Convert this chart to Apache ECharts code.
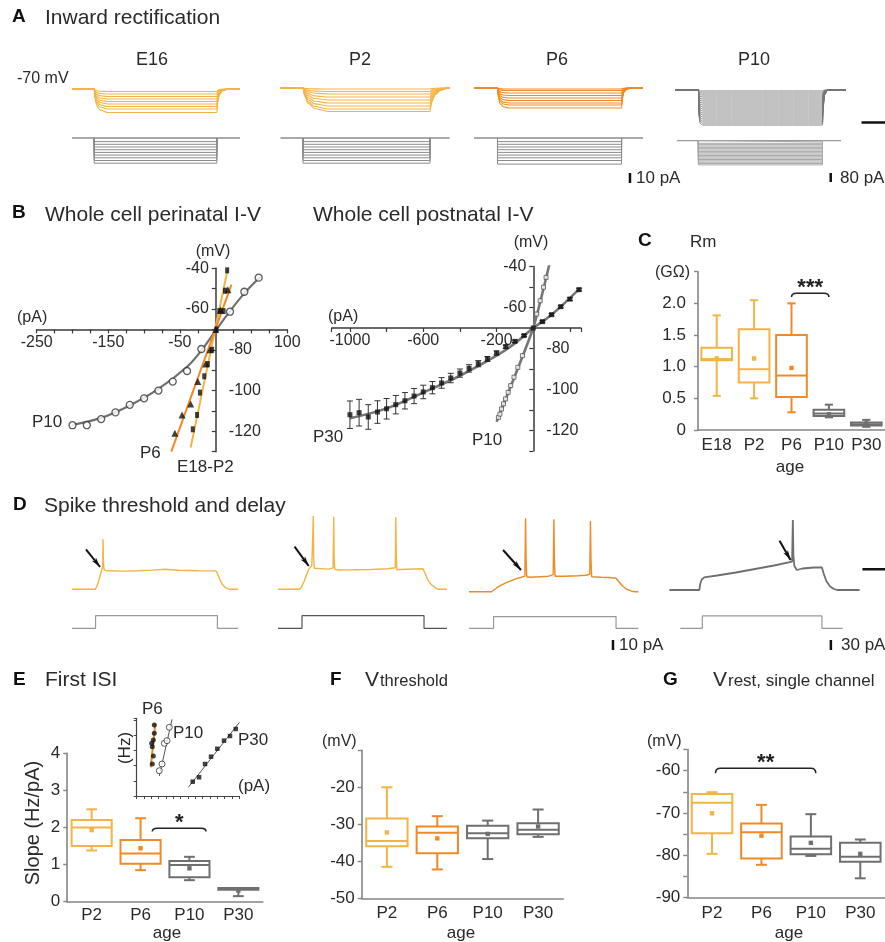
<!DOCTYPE html>
<html>
<head>
<meta charset="utf-8">
<title>Figure</title>
<script src="https://cdn.jsdelivr.net/npm/echarts@6.0.0/dist/echarts.min.js"></script>
<style>
html,body{margin:0;padding:0;background:#ffffff;}
#chart{width:885px;height:942px;}
</style>
</head>
<body>
<div id="chart"></div>
<script>
// ====================== DATA ======================
// ---- Panel A: inward rectification ----
const aAges = ['E16', 'P2', 'P6', 'P10'];
// steady-state voltage deflection of each sweep (mV, relative to -70 mV)
const aE16Levels = [-2.5, -5, -7.5, -10, -12.5, -15, -17.5, -20, -23.5];
const aP2Levels  = [-1, -3.5, -6, -9, -12, -15, -18, -21, -23.5];
const aP6Levels  = [-1, -2.5, -5, -7.5, -10, -12.5, -15, -17, -20];
const aP10Levels = [-1, -3, -5, -7, -9, -11, -13, -15, -17, -19, -21, -23, -25, -27, -29, -31, -33, -35];
// injected current steps (pA)
const aE16Steps = [-4, -7, -10, -13, -16, -19, -22, -25, -28];
const aP2Steps  = [-4, -7, -10, -13, -16, -19, -22, -25, -28];
const aP6Steps  = [-4, -7, -10, -13, -16, -19, -22, -25, -29];
const aP10Steps = [-12, -24, -36, -48, -60, -72, -84, -96, -108, -120, -132, -144, -156, -168, -180, -192, -204, -216];
const aStepOn  = [132, 133, 139, 137];   // ms
const aStepOff = [862, 884, 873, 863];   // ms
const aCmdSpan = [[0, 1000], [0, 1000], [0, 1000], [11, 971]];
// time course of each sweep: [ms after edge, fraction of steady deflection]
const aE16On  = [[6, 0.45], [15, 0.72], [35, 0.9], [80, 1]];
const aE16Off = [[6, 0.55], [15, 0.25], [35, 0.07], [70, 0]];
const aP2On   = [[10, 0.35], [30, 0.65], [70, 0.88], [150, 1]];
const aP2Off  = [[10, 0.6], [30, 0.3], [60, 0.1], [110, 0]];
const aP6On   = [[6, 0.5], [15, 0.78], [35, 0.94], [70, 1]];
const aP6Off  = [[6, 0.5], [15, 0.2], [35, 0.05], [60, 0]];
const aP10On  = [[3, 0.75], [10, 0.95], [25, 1]];
const aP10Off = [[4, 0.5], [12, 0.15], [30, 0]];
// scale bars: [ms, value] end points
const aBar10pA = [[923, -39], [923, -50]];
const aBar80pA = [[911, -288], [911, -368]];
const aTimeBar = [[1091, -102.5], [1229, -102.5]];

// ---- Panel B: I-V curves (pA, mV) ----
const bP10Current = [-200, -180, -160, -140, -120, -100, -80, -60, -40, -20, 20, 40, 60];
const bP10Voltage = [-117, -117, -114, -110.7, -107, -103.8, -100, -95.6, -90.4, -79.6, -61.3, -51.5, -44.6];
const bP10Fit = [[-200, -116.8], [-160, -113.4], [-120, -107.3], [-80, -99.2], [-40, -88.3], [-20, -80.3], [0, -70.5], [20, -61], [40, -52.3], [62, -44.3]];
const bE18Current = [16, 13, 5, 11, 1, -5, -11, -16, -22, -26, -32];
const bE18Voltage = [-41, -51, -61, -61, -70, -80, -87, -93, -101, -112, -119];
const bP6Current = [17, 7, 0, -8, -14, -25, -35, -47, -57];
const bP6Voltage = [-50.5, -60.5, -70, -80, -87, -95.6, -106.6, -112, -121];
const bE18Fit = [[-35, -128], [17, -40]];
const bP6Fit = [[-62, -130], [22, -48]];
const bP30Current = [-1000, -950, -900, -850, -800, -750, -700, -650, -600, -550, -500, -450, -400, -350, -300, -250, -200, -150, -100, -50, 0, 50, 100, 150, 200, 250];
const bP30Voltage = [-112.3, -111.3, -113.4, -111, -109.4, -107.4, -105.5, -103.2, -101.2, -99.1, -96.8, -94.4, -92, -89.7, -87.4, -85.1, -82.2, -79.1, -76.5, -73.7, -70, -66.9, -63.5, -59.6, -55.9, -51.3];
const bP30Sem = [6.7, 6.5, 6, 5.5, 5, 4.5, 4, 3.7, 3.3, 3, 2.6, 2.3, 2, 1.8, 1.5, 1.2, 1, 0.8, 0.6, 0.5, 0, 0.5, 0.6, 0.6, 0.7, 0.7];
const bP30Fit = [[-1000, -114], [-800, -109.2], [-600, -101.5], [-400, -93.3], [-200, -83.5], [-100, -77.5], [0, -70], [100, -63.5], [250, -51]];
const bP10bCurrent = [-190, -182, -173, -162, -151, -137, -123, -105, -84, -59, 19, 38, 56, 70];
const bP10bVoltage = [-113.6, -112, -109.5, -107, -104.6, -101.4, -98.1, -94, -89.2, -83.5, -63.2, -56.7, -50.1, -45.3];
const bP10bFit = [[-200, -115.8], [0, -70], [88, -39]];

// ---- Panel C: Rm (GΩ) ----
const cAges = ['E18', 'P2', 'P6', 'P10', 'P30'];
const cMin  = [0.54, 0.50, 0.28, 0.20, 0.05];
const cQ1   = [1.10, 0.75, 0.52, 0.22, 0.07];
const cMed  = [1.12, 0.96, 0.86, 0.26, 0.09];
const cQ3   = [1.30, 1.59, 1.50, 0.32, 0.12];
const cMax  = [1.81, 2.05, 2.00, 0.40, 0.16];
const cMean = [1.13, 1.13, 0.98, 0.25, 0.10];

// ---- Panel D: spike traces (ms, mV) and current steps ----
const dE16Trace = [[0,-70],[140,-70],[150,-67],[160,-62],[170,-56],[180,-50],[185,-47.5],[187,-20],[189,-42],[193,-50.5],[210,-51.5],[300,-51.8],[400,-51.5],[480,-50.8],[560,-50],[640,-51],[760,-51.4],[866,-51.6],[876,-54],[890,-60],[905,-65],[925,-68.5],[950,-70],[1000,-70]];
const dP2Trace = [[0,-70],[128,-70],[140,-67.5],[155,-62],[170,-55],[185,-49],[200,-46.5],[207,-46],[209,3.3],[211,-38],[215,-49],[225,-50.5],[300,-49.8],[326,-48.5],[330,2.6],[332,-38],[336,-50],[360,-50.7],[450,-50.5],[550,-50.2],[650,-49.4],[694,-48.5],[697,2],[700,-38],[704,-50.5],[760,-50],[858,-49.5],[870,-54],[885,-60],[905,-65],[930,-68.5],[950,-70],[1000,-70]];
const dP6Trace = [[0,-70],[133,-70],[145,-68.5],[165,-66],[190,-63.5],[220,-61],[250,-59],[280,-57],[305,-55.8],[330,-54.5],[334,3.4],[337,-38],[341,-55],[360,-55.6],[420,-55],[470,-54.5],[497,-53],[501,2.4],[504,-38],[508,-54.5],[560,-54.5],[640,-54],[690,-53.5],[713,-52.5],[717,0.7],[720,-38],[724,-55],[780,-55.5],[830,-55.8],[868,-56.5],[885,-60],[905,-64],[930,-67.5],[960,-69.5],[983,-70],[1000,-70]];
const dP10Trace = [[0,-70],[157,-70],[162,-64],[170,-59.5],[183,-57.3],[250,-55.5],[350,-52.5],[450,-49],[550,-45.5],[645,-41.7],[649,0],[652,-36],[657,-46],[670,-50],[700,-48.5],[760,-47.5],[802,-47.5],[812,-54],[825,-61],[845,-66.5],[865,-69],[882,-70],[1000,-70]];
const dStepOn  = [142, 142, 145, 173];
const dStepOff = [876, 864, 868, 802];
const dStepAmp = [12.6, 12.6, 11.7, 37];     // pA
const dCmdSpan = [[0, 1000], [0, 1000], [0, 1000], [57, 911]];
const dArrowFrom = [[84, -30], [98, -27.4], [201, -28.3], [579, -20.7]];
const dArrowTo   = [[169, -47.7], [182, -46.7], [307, -48.3], [637, -40]];
const dBar10pA = [[850, -11.7], [850, -21.7]];
const dBar30pA = [[849, -35], [849, -65]];
const dTimeBar = [[1015, -49.3], [1134, -49.3]];

// ---- Panel E: first ISI slope (Hz/pA) ----
const eAges = ['P2', 'P6', 'P10', 'P30'];
const eMin  = [1.38, 0.85, 0.58, 0.15];
const eQ1   = [1.50, 1.02, 0.66, 0.32];
const eMed  = [2.00, 1.30, 0.99, 0.34];
const eQ3   = [2.20, 1.66, 1.10, 0.37];
const eMax  = [2.49, 2.25, 1.21, 0.37];
const eMean = [1.93, 1.44, 0.90, 0.30];
// inset f-I (pA, Hz)
const insP6  = [[42.5, 21], [45.3, 26.3], [42.5, 32.4], [40.9, 34.6], [45.3, 36.8], [48, 41.2], [48, 46.6]];
const insP6Fit = [[38.2, 18.8], [50.8, 47.7]];
const insP10 = [[61.6, 16.6], [69, 21], [75.3, 34.6], [82.6, 36.3], [88.9, 45.1]];
const insP10Fit = [[61.6, 13.1], [96.3, 50.3]];
const insP30 = [[152.7, 9.4], [170, 12.3], [186.3, 21], [202.6, 25.8], [219.8, 31], [238, 36.3], [254.4, 39.4], [270, 44]];
const insP30Fit = [[140.8, 5.7], [280, 48.3]];

// ---- Panel F: V threshold (mV) ----
const fAges = ['P2', 'P6', 'P10', 'P30'];
const fMin  = [-41.5, -42.2, -39.4, -33.4];
const fQ1   = [-35.9, -37.8, -33.8, -32.7];
const fMed  = [-34.5, -32.3, -32.4, -31.5];
const fQ3   = [-28.4, -30.6, -30.4, -29.7];
const fMax  = [-20.0, -27.8, -29.0, -26.0];
const fMean = [-32.2, -33.8, -32.6, -30.6];

// ---- Panel G: V rest, single channel (mV) ----
const gAges = ['P2', 'P6', 'P10', 'P30'];
const gMin  = [-79.7, -82.3, -80.2, -85.5];
const gQ1   = [-74.8, -80.8, -79.8, -81.6];
const gMed  = [-67.6, -74.6, -78.5, -80.4];
const gQ3   = [-65.5, -72.5, -75.6, -77.1];
const gMax  = [-65.1, -68.1, -70.3, -76.3];
const gMean = [-70.1, -75.4, -77.1, -79.7];

// ====================== STYLE / LAYOUT ======================
const FONT = '"Liberation Sans", Arial, Helvetica, sans-serif';
const YEL = '#F3B443', ORA = '#F08A26', GRY = '#6F6F6F';
const TXT = '#2a2a2a';
const grids = [], xAxes = [], yAxes = [], series = [], graphics = [];
const addGrid = (left, top, width, height) => (grids.push({left, top, width, height}), grids.length - 1);
const addX = o => (xAxes.push(o), xAxes.length - 1);
const addY = o => (yAxes.push(o), yAxes.length - 1);
function line(xi, yi, data, color, width, extra) {
  series.push(Object.assign({type: 'line', xAxisIndex: xi, yAxisIndex: yi, data, showSymbol: false, symbol: 'none',
    lineStyle: {color, width}, itemStyle: {color}, silent: true, animation: false}, extra || {}));
}
function scatter(xi, yi, data, symbol, size, itemStyle) {
  series.push({type: 'scatter', xAxisIndex: xi, yAxisIndex: yi, data, symbol, symbolSize: size, itemStyle, silent: true, animation: false, z: 5});
}
function T(text, x, y, size, opt) {
  opt = opt || {};
  const al = opt.align || 'left';
  graphics.push({type: 'text', x, y, rotation: opt.rot || 0, z: 100, silent: true,
    style: {text, fill: opt.color || TXT, font: (opt.bold ? 'bold ' : '') + size + 'px ' + FONT,
      align: al, verticalAlign: 'middle', textAlign: al, textVerticalAlign: 'middle'}});
}
const zip = (xs, ys) => xs.map((x, i) => [x, ys[i]]);

// trace cell axes (hidden): x in ms, voltage 1 mV per px, current per layout
function cellAxes(L, top, h) {
  const k = (L.x1 - L.x0) / 1000;
  const g = addGrid(L.x0, top, L.xr - L.x0, h);
  const xa = addX({type: 'value', gridIndex: g, min: 0, max: (L.xr - L.x0) / k, show: false});
  const yv = addY({type: 'value', gridIndex: g, min: -70 - (top + h - L.vBase), max: -70 + (L.vBase - top), show: false});
  const yc = addY({type: 'value', gridIndex: g, min: -(top + h - L.cBase) / L.pxPerPA, max: (L.cBase - top) / L.pxPerPA, show: false});
  return {xa, yv, yc};
}
function sweep(level, on, off, onShape, offShape) {
  const pts = [[0, -70], [on, -70]];
  onShape.forEach(([dt, f]) => pts.push([on + dt, -70 + level * f]));
  pts.push([off, -70 + level]);
  offShape.forEach(([dt, f]) => pts.push([off + dt, -70 + level * f]));
  pts.push([1000, -70]);
  return pts;
}
const stepBox = (amp, on, off) => [[on, 0], [on, amp], [off, amp], [off, 0]];
const stepTrace = (amp, on, off, t0, t1) => [[t0, 0], [on, 0], [on, amp], [off, amp], [off, 0], [t1, 0]];

// ---------- Panel A ----------
const aLayout = [
  {x0: 72, x1: 240, xr: 240, vBase: 89, cBase: 138, pxPerPA: 0.9},
  {x0: 280.5, x1: 449.6, xr: 449.6, vBase: 88, cBase: 138, pxPerPA: 0.9},
  {x0: 474, x1: 643, xr: 643, vBase: 88, cBase: 138, pxPerPA: 0.9},
  {x0: 675, x1: 850, xr: 890, vBase: 90, cBase: 140.6, pxPerPA: 0.1125}
];
const aLevels = [aE16Levels, aP2Levels, aP6Levels, aP10Levels];
const aSteps = [aE16Steps, aP2Steps, aP6Steps, aP10Steps];
const aOnS = [aE16On, aP2On, aP6On, aP10On], aOffS = [aE16Off, aP2Off, aP6Off, aP10Off];
const aCol = [YEL, YEL, ORA, GRY];
const aAx = aLayout.map((L, i) => {
  const ax = cellAxes(L, 78, 112);
  line(ax.xa, ax.yc, [[aCmdSpan[i][0], 0], [aCmdSpan[i][1], 0]], i === 3 ? '#9a9a9a' : '#555', 1.2);
  aSteps[i].forEach(s => line(ax.xa, ax.yc, stepBox(s, aStepOn[i], aStepOff[i]), i === 3 ? '#a8a8a8' : '#8c8c8c', 1));
  aLevels[i].forEach(lv => line(ax.xa, ax.yv, sweep(lv, aStepOn[i], aStepOff[i], aOnS[i], aOffS[i]),
    i === 3 ? '#767676' : aCol[i], i === 3 ? 0.9 : 1.1, {smooth: 0.3, smoothMonotone: 'x'}));
  return ax;
});
line(aAx[2].xa, aAx[2].yc, aBar10pA, '#111', 2.5);
line(aAx[3].xa, aAx[3].yc, aBar80pA, '#111', 2.5);
line(aAx[3].xa, aAx[3].yv, aTimeBar, '#111', 2.5);

// ---------- Panel D ----------
const dLayout = [
  {x0: 72, x1: 238, xr: 238, vBase: 589.3, cBase: 628.3, pxPerPA: 1},
  {x0: 278, x1: 447, xr: 447, vBase: 589.3, cBase: 628.3, pxPerPA: 1},
  {x0: 469, x1: 638.4, xr: 638.4, vBase: 591.7, cBase: 628.3, pxPerPA: 1},
  {x0: 669.4, x1: 864, xr: 890, vBase: 590, cBase: 628.3, pxPerPA: 1 / 3}
];
const dTraces = [dE16Trace, dP2Trace, dP6Trace, dP10Trace];
const dCmdCol = ['#999', '#555', '#999', '#999'];
const dAx = dLayout.map((L, i) => {
  const ax = cellAxes(L, 500, 155);
  line(ax.xa, ax.yc, stepTrace(dStepAmp[i], dStepOn[i], dStepOff[i], dCmdSpan[i][0], dCmdSpan[i][1]), dCmdCol[i], 1.2);
  line(ax.xa, ax.yv, dTraces[i], aCol[i], i === 3 ? 1.8 : 1.4, {
    markLine: {silent: true, animation: false, symbol: ['none', 'arrow'], symbolSize: [4, 10], label: {show: false},
      lineStyle: {color: '#111', width: 2, type: 'solid'},
      data: [[{coord: dArrowFrom[i]}, {coord: dArrowTo[i]}]]}
  });
  return ax;
});
line(dAx[2].xa, dAx[2].yc, dBar10pA, '#111', 2.5);
line(dAx[3].xa, dAx[3].yc, dBar30pA, '#111', 2.5);
line(dAx[3].xa, dAx[3].yv, dTimeBar, '#111', 2.5);

// ---------- Panel B ----------
const bAxisLine = {onZero: false, lineStyle: {color: '#3a3a3a', width: 1.5}};
const bTick = {length: 4, lineStyle: {color: '#3a3a3a', width: 1.2}};
const bLabel = {color: TXT, fontSize: 16, fontFamily: FONT};
function ivAxes(left, top, width, height, xmin, xmax, xOpts, xCross, y0px, xLabels, ylLabels, yrLabels) {
  const g = addGrid(left, top, width, height);
  const xa = addX(Object.assign({type: 'value', gridIndex: g, min: xmin, max: xmax, position: 'bottom',
    offset: -(top + height - xCross), axisLine: bAxisLine, axisTick: bTick, splitLine: {show: false},
    axisLabel: Object.assign({}, bLabel, {margin: 5, formatter: v => xLabels.includes(v) ? String(v) : ''})}, xOpts));
  const yOff = -(y0px - left);
  const ya = addY({type: 'value', gridIndex: g, min: -130, max: -40, interval: 10, position: 'left', offset: yOff,
    axisLine: bAxisLine, axisTick: bTick, splitLine: {show: false},
    axisLabel: Object.assign({}, bLabel, {margin: 7, formatter: v => ylLabels.includes(v) ? String(v) : ''})});
  addY({type: 'value', gridIndex: g, min: -130, max: -40, interval: 10, position: 'left', offset: yOff,
    axisLine: {show: false}, axisTick: {show: false}, splitLine: {show: false},
    axisLabel: Object.assign({}, bLabel, {inside: true, margin: 13, formatter: v => yrLabels.includes(v) ? String(v) : ''})});
  return {xa, ya};
}
// left: perinatal
const bL = ivAxes(36.7, 268.3, 250.6, 183.4, -250, 100, {interval: 25}, 329.4, 215.8, [-250, -150, -50, 100], [-40, -60], [-80, -100, -120]);
line(bL.xa, bL.ya, bP10Fit, '#707070', 2.2, {smooth: 0.4});
line(bL.xa, bL.ya, bE18Fit, YEL, 2);
line(bL.xa, bL.ya, bP6Fit, ORA, 2);
scatter(bL.xa, bL.ya, zip(bP10Current, bP10Voltage), 'circle', 7, {color: '#fff', borderColor: '#333', borderWidth: 1.3});
scatter(bL.xa, bL.ya, zip(bE18Current, bE18Voltage), 'rect', [4, 6], {color: '#111'});
scatter(bL.xa, bL.ya, zip(bP6Current, bP6Voltage), 'triangle', 7, {color: '#111'});
// right: postnatal
const bR = ivAxes(331.6, 266.5, 249.3, 184.5, -1100, 260, {splitNumber: 7}, 328, 533.3, [-1000, -600, -200], [-40, -60], [-80, -100, -120]);
line(bR.xa, bR.ya, bP30Fit, '#777', 2.6, {smooth: 0.4});
line(bR.xa, bR.ya, bP10bFit, '#777', 2.6, {smooth: 0.15});
series.push({type: 'custom', xAxisIndex: bR.xa, yAxisIndex: bR.ya, silent: true, animation: false, z: 4,
  data: bP30Current.map((c, i) => [c, bP30Voltage[i], bP30Sem[i]]),
  renderItem: (p, api) => {
    const x = api.value(0), y = api.value(1), e = api.value(2);
    if (!e) return {type: 'group', children: []};
    const a = api.coord([x, y + e]), b = api.coord([x, y - e]);
    const st = {stroke: '#333', lineWidth: 1};
    return {type: 'group', children: [
      {type: 'line', shape: {x1: a[0], y1: a[1], x2: b[0], y2: b[1]}, style: st},
      {type: 'line', shape: {x1: a[0] - 3, y1: a[1], x2: a[0] + 3, y2: a[1]}, style: st},
      {type: 'line', shape: {x1: b[0] - 3, y1: b[1], x2: b[0] + 3, y2: b[1]}, style: st}]};
  }});
scatter(bR.xa, bR.ya, zip(bP30Current, bP30Voltage), 'rect', 5, {color: '#111'});
scatter(bR.xa, bR.ya, zip(bP10bCurrent, bP10bVoltage), 'rect', 4, {color: '#fff', borderColor: '#555', borderWidth: 1});

// ---------- Box panels ----------
const boxAxisLine = {lineStyle: {color: '#858585', width: 1.6}};
const boxTick = {length: 4, lineStyle: {color: '#858585', width: 1.4}};
function boxAxes(cats, left, top, width, height, ymin, ymax, yint, yFmt, xMargin, yMargin) {
  const g = addGrid(left, top, width, height);
  const xa = addX({type: 'category', gridIndex: g, data: cats, boundaryGap: true, axisLine: boxAxisLine,
    axisTick: Object.assign({alignWithLabel: true, interval: 0}, boxTick),
    axisLabel: {color: TXT, fontSize: 17, fontFamily: FONT, margin: xMargin, interval: 0, hideOverlap: false}});
  const ya = addY({type: 'value', gridIndex: g, min: ymin, max: ymax, interval: yint, axisLine: Object.assign({show: true}, boxAxisLine),
    axisTick: Object.assign({show: true}, boxTick), splitLine: {show: false},
    axisLabel: {color: TXT, fontSize: 17, fontFamily: FONT, margin: yMargin, formatter: yFmt}});
  return {xa, ya};
}
function boxSeries(ax, cats, mins, q1, med, q3, maxs, means, colors) {
  series.push({type: 'custom', xAxisIndex: ax.xa, yAxisIndex: ax.ya, silent: true, animation: false, z: 3,
    data: cats.map((c, i) => [i, mins[i], q1[i], med[i], q3[i], maxs[i], means[i]]),
    encode: {x: 0, y: [1, 2, 3, 4, 5, 6]},
    renderItem: (p, api) => {
      const i = api.value(0);
      const band = api.size([1, 0])[0];
      const cx = api.coord([i, 0])[0];
      const Y = k => api.coord([i, api.value(k)])[1];
      const yMin = Y(1), yQ1 = Y(2), yMed = Y(3), yQ3 = Y(4), yMax = Y(5), yMean = Y(6);
      const col = colors[p.dataIndex];
      const hw = band * 0.41, cap = band * 0.11;
      const st = {stroke: col, lineWidth: 2, fill: null};
      return {type: 'group', children: [
        {type: 'line', shape: {x1: cx, y1: yMax, x2: cx, y2: yQ3}, style: st},
        {type: 'line', shape: {x1: cx, y1: yQ1, x2: cx, y2: yMin}, style: st},
        {type: 'line', shape: {x1: cx - cap, y1: yMax, x2: cx + cap, y2: yMax}, style: st},
        {type: 'line', shape: {x1: cx - cap, y1: yMin, x2: cx + cap, y2: yMin}, style: st},
        {type: 'rect', shape: {x: cx - hw, y: yQ3, width: 2 * hw, height: Math.max(yQ1 - yQ3, 1)}, style: {stroke: col, lineWidth: 2, fill: 'rgba(255,255,255,0)'}},
        {type: 'line', shape: {x1: cx - hw, y1: yMed, x2: cx + hw, y2: yMed}, style: st},
        {type: 'rect', shape: {x: cx - 2.2, y: yMean - 2.2, width: 4.4, height: 4.4}, style: {fill: col}}]};
    }});
}
function bracket(ax, fromIdx, fromFrac, toIdx, toFrac, yTop, yTip, text) {
  series.push({type: 'custom', xAxisIndex: ax.xa, yAxisIndex: ax.ya, silent: true, animation: false, z: 4,
    data: [[fromIdx, toIdx, yTop, yTip]], encode: {x: [0, 1], y: [2, 3]},
    renderItem: (p, api) => {
      const band = api.size([1, 0])[0];
      const x1 = api.coord([api.value(0), 0])[0] + fromFrac * band;
      const x2 = api.coord([api.value(1), 0])[0] + toFrac * band;
      const yT = api.coord([api.value(0), api.value(2)])[1];
      const yP = api.coord([api.value(0), api.value(3)])[1];
      return {type: 'group', children: [
        {type: 'path', shape: {pathData: `M${x1} ${yP} Q${x1} ${yT} ${x1 + 5} ${yT} L${x2 - 5} ${yT} Q${x2} ${yT} ${x2} ${yP}`},
          style: {stroke: '#222', lineWidth: 1.5, fill: null}},
        {type: 'text', x: (x1 + x2) / 2, y: yT - 5, style: {text, fill: '#222', font: 'bold 22px ' + FONT,
          align: 'center', verticalAlign: 'middle', textAlign: 'center', textVerticalAlign: 'middle'}}]};
    }});
}
const colsC = [YEL, YEL, ORA, GRY, GRY];
const cols4 = [YEL, ORA, GRY, GRY];
// C
const cAx = boxAxes(cAges, 698, 271.7, 193.5, 158.3, 0, 2.5, 0.5, v => v === 2.5 ? '' : (v === 0 ? '0' : v.toFixed(1)), 7, 12);
boxSeries(cAx, cAges, cMin, cQ1, cMed, cQ3, cMax, cMean, colsC);
bracket(cAx, 2, 0, 3, 0, 2.16, 2.1, '***');
// E
const eAx = boxAxes(eAges, 67.2, 753.3, 195.6, 148.4, 0, 4, 1, v => String(v), 5, 7);
boxSeries(eAx, eAges, eMin, eQ1, eMed, eQ3, eMax, eMean, cols4);
bracket(eAx, 1, 0.24, 2, 0.34, 1.98, 1.89, '*');
// F
const fAx = boxAxes(fAges, 361.7, 750.3, 201.6, 148, -50, -10, 10, v => v === -10 ? '' : String(v), 7, 7);
boxSeries(fAx, fAges, fMin, fQ1, fMed, fQ3, fMax, fMean, cols4);
// G
const gAx = boxAxes(gAges, 687.3, 749.6, 200, 147.7, -90, -55, 5, v => v % 10 === 0 ? String(v) : '', 8, 7);
boxSeries(gAx, gAges, gMin, gQ1, gMed, gQ3, gMax, gMean, cols4);
bracket(gAx, 0, 0.07, 2, 0.1, -59.4, -60.6, '**');

// E inset
const insLine = {lineStyle: {color: '#444', width: 1.2}};
const insTick = {length: 3, lineStyle: {color: '#444', width: 1}};
const gIns = addGrid(136.7, 718.3, 102.7, 77.7);
const insX = addX({type: 'value', gridIndex: gIns, min: 0, max: 280, interval: 20, axisLine: Object.assign({onZero: false}, insLine), axisTick: insTick, axisLabel: {show: false}, splitLine: {show: false}});
const insY = addY({type: 'value', gridIndex: gIns, min: 0, max: 51, interval: 10, axisLine: Object.assign({show: true, onZero: false}, insLine), axisTick: Object.assign({show: true}, insTick), axisLabel: {show: false}, splitLine: {show: false}});
line(insX, insY, insP6Fit, ORA, 2);
line(insX, insY, insP10Fit, '#555', 1);
line(insX, insY, insP30Fit, '#555', 1);
scatter(insX, insY, insP6, 'circle', 5, {color: '#111'});
scatter(insX, insY, insP10, 'circle', 6, {color: '#fff', borderColor: '#333', borderWidth: 1});
scatter(insX, insY, insP30, 'rect', 4.5, {color: '#111'});

// ---------- Texts ----------
// A
T('A', 12, 17, 19, {bold: true, color: '#111'});
T('Inward rectification', 45, 18, 21);
T('E16', 152, 60, 18, {align: 'center'});
T('P2', 360, 60, 18, {align: 'center'});
T('P6', 557, 60, 18, {align: 'center'});
T('P10', 754, 60, 18, {align: 'center'});
T('-70 mV', 17, 79, 16);
T('10 pA', 636, 178, 17);
T('80 pA', 840, 178, 17);
// B
T('B', 12, 213, 19, {bold: true, color: '#111'});
T('Whole cell perinatal I-V', 45, 215, 21);
T('Whole cell postnatal I-V', 313, 215, 21);
T('(mV)', 213, 252, 16, {align: 'center'});
T('(pA)', 17, 318, 16);
T('P10', 32, 422, 17);
T('P6', 140, 453, 17);
T('E18-P2', 177, 467, 17);
T('(mV)', 531, 243, 16, {align: 'center'});
T('(pA)', 328, 317, 16);
T('P30', 313, 437, 17);
T('P10', 472, 440, 17);
// C
T('C', 638, 241, 19, {bold: true, color: '#111'});
T('Rm', 690, 242, 17);
T('(GΩ)', 655, 273, 16);
T('age', 790, 467, 17, {align: 'center'});
// D
T('D', 13, 505, 19, {bold: true, color: '#111'});
T('Spike threshold and delay', 44, 506, 21);
T('10 pA', 619, 645, 17);
T('30 pA', 841, 645, 17);
// E
T('E', 13, 680, 19, {bold: true, color: '#111'});
T('First ISI', 45, 680, 21);
T('Slope (Hz/pA)', 33, 823, 20, {align: 'center', rot: Math.PI / 2});
T('age', 167, 933, 17, {align: 'center'});
T('P6', 142, 709, 17);
T('P10', 173, 733, 17);
T('P30', 238, 740, 17);
T('(pA)', 238, 786, 17);
T('(Hz)', 125, 748, 17, {align: 'center', rot: Math.PI / 2});
// F
T('F', 330, 680, 19, {bold: true, color: '#111'});
T('V', 365, 680, 21);
T('threshold', 380, 681.5, 16.5);
T('(mV)', 322, 742, 16);
T('age', 461, 933, 17, {align: 'center'});
// G
T('G', 663, 680, 19, {bold: true, color: '#111'});
T('V', 713, 680, 21);
T('rest, single channel', 728, 681.5, 17);
T('(mV)', 647, 742, 16);
T('age', 789, 933, 17, {align: 'center'});

const chart = echarts.init(document.getElementById('chart'), null, {renderer: 'canvas'});
chart.setOption({animation: false, backgroundColor: '#ffffff', textStyle: {fontFamily: FONT},
  grid: grids, xAxis: xAxes, yAxis: yAxes, series, graphic: graphics});
</script>
</body>
</html>
